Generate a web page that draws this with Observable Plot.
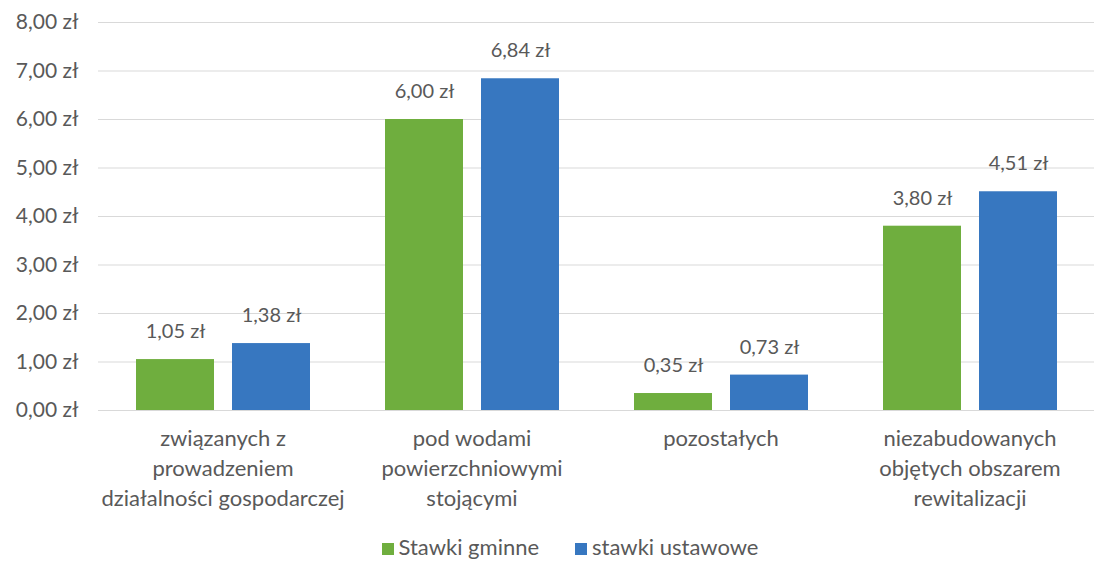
<!DOCTYPE html>
<html><head><meta charset="utf-8">
<script src="https://cdn.jsdelivr.net/npm/d3@7"></script>
<script src="https://cdn.jsdelivr.net/npm/@observablehq/plot@0.6"></script>
<style>
body{margin:0;background:#fff;font-family:Lato,"Open Sans",sans-serif;}
#legend{display:flex;justify-content:center;gap:36px;font-size:22px;color:#595959;padding-left:45px;height:32px;align-items:center;padding-top:4px;}
#legend span.sw{display:inline-block;width:12px;height:12px;margin-right:5px;vertical-align:0px;}
</style></head>
<body><div id="chart"></div><div id="legend"></div>
<script>
const categories = ["związanych z\nprowadzeniem\ndziałalności gospodarczej","pod wodami\npowierzchniowymi\nstojącymi","pozostałych","niezabudowanych\nobjętych obszarem\nrewitalizacji"];
const seriesNames = ["Stawki gminne","stawki ustawowe"];
const stawkiGminne = [1.05, 6.00, 0.35, 3.80];
const stawkiUstawowe = [1.38, 6.84, 0.73, 4.51];
const yTicks = [0,1,2,3,4,5,6,7,8];
const colors = ["#6fae3e","#3777c0"];

const data = [];
categories.forEach((c,i)=>{
  data.push({cat:c, series:seriesNames[0], value:stawkiGminne[i]});
  data.push({cat:c, series:seriesNames[1], value:stawkiUstawowe[i]});
});
const fmt = v => v.toFixed(2).replace(".", ",") + " zł";

const chart = Plot.plot({
  width:1095, height:526,
  marginLeft:97, marginRight:0, marginTop:22, marginBottom:116,
  style:{fontFamily:"Lato, 'Open Sans', sans-serif", fontSize:"20px", color:"#595959"},
  fx:{domain:categories, padding:0, axis:null},
  x:{domain:seriesNames, paddingInner:0.1875, paddingOuter:0.389, axis:null},
  y:{domain:[0,8], ticks:yTicks, tickFormat:fmt, label:null},
  color:{domain:seriesNames, range:colors},
  marks:[
    Plot.gridY(yTicks,{stroke:"#d9d9d9", strokeOpacity:1, strokeWidth:1}),
    Plot.axisY(yTicks,{tickSize:0, tickPadding:20, tickFormat:fmt, fontSize:21, fill:"#595959", label:null}),
    Plot.barY(data,{fx:"cat", x:"series", y:"value", fill:"series"}),
    Plot.text(data,{fx:"cat", x:"series", y:"value", text:d=>fmt(d.value), dy:-28, fontSize:20, fill:"#595959"}),
    Plot.text(categories,{fx:d=>d, text:d=>d, frameAnchor:"bottom", dy:14, lineAnchor:"top", lineHeight:1.36, fontSize:22, fill:"#595959"})
  ]
});
document.getElementById("chart").appendChild(chart);
const lg = document.getElementById("legend");
seriesNames.forEach((s,i)=>{
  const el = document.createElement("div");
  el.innerHTML = `<span class="sw" style="background:${colors[i]}"></span>${s}`;
  lg.appendChild(el);
});
</script></body></html>
